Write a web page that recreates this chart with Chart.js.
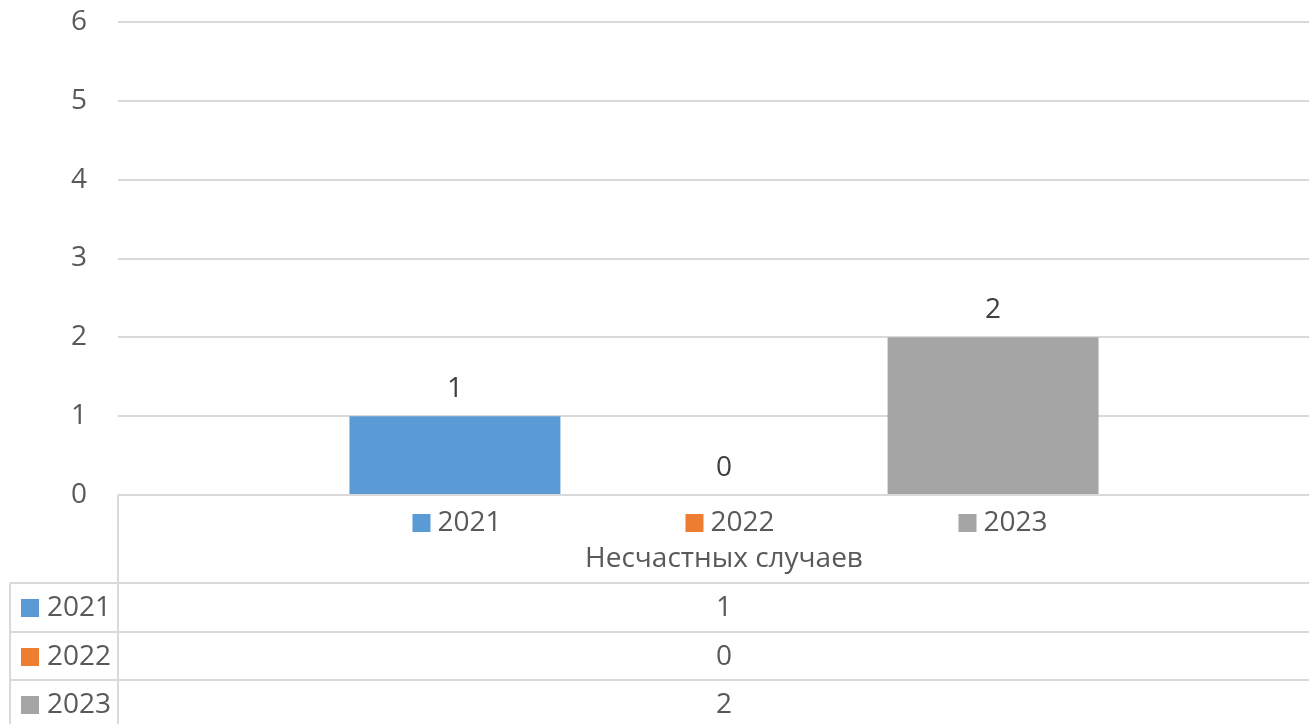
<!DOCTYPE html>
<html lang="ru">
<head>
    <meta charset="UTF-8">
    <title>Несчастных случаев</title>
    <script src="https://cdn.jsdelivr.net/npm/chart.js"></script>
    <style>
        body { margin: 0; overflow: hidden; background: #fff; }
    </style>
</head>
<body>
    <canvas id="accChart" width="1330" height="724"></canvas>

    <script>
        // data
        var categories = ['Несчастных случаев'];
        var years = ['2021', '2022', '2023'];
        var values2021 = [1];
        var values2022 = [0];
        var values2023 = [2];
        var yTicks = [0, 1, 2, 3, 4, 5, 6];

        var colors = ['#5b9bd5', '#ed7d31', '#a5a5a5'];
        var seriesValues = [values2021, values2022, values2023];
        var FONT = '"Open Sans", "Noto Sans", sans-serif';
        var FSIZE = 28;
        var GRID = '#d9d9d9';

        // value labels over the bars
        var valueLabels = {
            id: 'valueLabels',
            afterDatasetsDraw: function(chart) {
                var ctx = chart.ctx;
                ctx.save();
                ctx.font = FSIZE + 'px ' + FONT;
                ctx.fillStyle = '#404040';
                ctx.textAlign = 'center';
                ctx.textBaseline = 'middle';
                chart.data.datasets.forEach(function(ds, i) {
                    chart.getDatasetMeta(i).data.forEach(function(bar, j) {
                        ctx.fillText(String(ds.data[j]), bar.x, bar.y - 27);
                    });
                });
                ctx.restore();
            }
        };

        // Excel-like data table under the plot
        var dataTable = {
            id: 'dataTable',
            afterDraw: function(chart) {
                var ctx = chart.ctx;
                var a = chart.chartArea;
                var x = chart.scales.x;
                var W = chart.width, H = chart.height;
                var cx = x.getPixelForValue(0);
                var top = a.bottom;
                var rows = [top + 88, top + 137, top + 185, top + 233];

                ctx.save();
                ctx.strokeStyle = GRID;
                ctx.lineWidth = 2;
                ctx.beginPath();
                ctx.moveTo(a.left, top); ctx.lineTo(a.left, H);
                ctx.moveTo(10, rows[0]); ctx.lineTo(10, H);
                rows.forEach(function(r) {
                    ctx.moveTo(10, r); ctx.lineTo(W, r);
                });
                ctx.stroke();

                ctx.font = FSIZE + 'px ' + FONT;
                ctx.fillStyle = '#595959';
                ctx.textBaseline = 'middle';

                // legend row
                var step = 273;
                years.forEach(function(yr, i) {
                    var tw = ctx.measureText(yr).width;
                    var itemW = 18 + 7 + tw;
                    var ix = cx + 6 + (i - 1) * step - itemW / 2;
                    ctx.fillStyle = colors[i];
                    ctx.fillRect(ix, top + 19, 18, 18);
                    ctx.fillStyle = '#595959';
                    ctx.textAlign = 'left';
                    ctx.fillText(yr, ix + 25, top + 28);
                });

                // category name
                ctx.textAlign = 'center';
                ctx.fillText(categories[0], cx, top + 64);

                // rows
                years.forEach(function(yr, i) {
                    var mid = rows[i] + 25;
                    ctx.fillStyle = colors[i];
                    ctx.fillRect(21, mid - 9, 18, 18);
                    ctx.fillStyle = '#595959';
                    ctx.textAlign = 'left';
                    ctx.fillText(yr, 47, mid);
                    ctx.textAlign = 'center';
                    ctx.fillText(String(seriesValues[i][0]), cx, mid);
                });
                ctx.restore();
            }
        };

        var ctx = document.getElementById('accChart').getContext('2d');
        var accChart = new Chart(ctx, {
            type: 'bar',
            data: {
                labels: categories,
                datasets: years.map(function(yr, i) {
                    return {
                        label: yr,
                        data: seriesValues[i],
                        backgroundColor: colors[i],
                        categoryPercentage: 0.666,
                        barPercentage: 0.784
                    };
                })
            },
            options: {
                responsive: false,
                animation: false,
                layout: { padding: { top: 22, right: 0, bottom: 229, left: 0 } },
                plugins: {
                    legend: { display: false },
                    tooltip: { enabled: false }
                },
                scales: {
                    x: { display: false },
                    y: {
                        min: 0,
                        max: 6,
                        afterFit: function(s) {
                            s.width = 118;
                            s.paddingTop = 0;      // keep the plot top at the layout padding
                            s.paddingBottom = 0;
                        },
                        afterBuildTicks: function(s) {
                            s.ticks = yTicks.map(function(v) { return { value: v }; });
                        },
                        border: { display: false },
                        grid: { color: GRID, lineWidth: 2, drawTicks: false },
                        ticks: {
                            padding: 31,
                            color: '#595959',
                            font: { family: FONT, size: FSIZE }
                        }
                    }
                }
            },
            plugins: [valueLabels, dataTable]
        });
    </script>
</body>
</html>
